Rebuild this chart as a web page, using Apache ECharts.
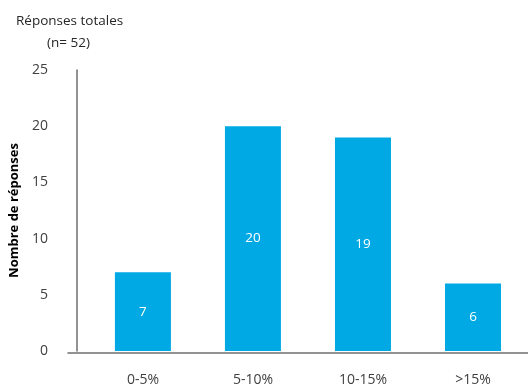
<!DOCTYPE html>
<html>
<head>
<meta charset="utf-8">
<script src="https://cdn.jsdelivr.net/npm/echarts@6/dist/echarts.min.js"></script>
<style>
  html, body { margin: 0; padding: 0; background: #ffffff; }
  #chart { width: 528px; height: 387px; }
</style>
</head>
<body>
<div id="chart"></div>
<script>
// Distribution of responses by range
const categories = ['0-5%', '5-10%', '10-15%', '>15%'];
const responses = [7, 20, 19, 6];
const yTicks = { min: 0, max: 25, interval: 5 };

const FONT = '"Open Sans", "Noto Sans", sans-serif';
const BAR_COLOR = '#00a9e4';
const AXIS_COLOR = '#6f6f6f';

const chart = echarts.init(document.getElementById('chart'), null, { renderer: 'canvas' });

chart.setOption({
  animation: false,
  backgroundColor: '#ffffff',
  title: [
    {
      text: 'Réponses totales',
      left: 11, top: 9,
      textStyle: { fontFamily: FONT, fontSize: 13.5, fontWeight: 'normal', color: '#262626' }
    },
    {
      text: '(n= 52)',
      left: 42, top: 31,
      textStyle: { fontFamily: FONT, fontSize: 13.5, fontWeight: 'normal', color: '#262626' }
    }
  ],
  grid: [
    { left: 87, right: -4, top: 70, bottom: 34 },
    // baseline running across the full width, crossing the value axis
    { left: 68, right: 0, bottom: 34, height: 10 }
  ],
  xAxis: [
    {
      gridIndex: 0,
      type: 'category',
      data: categories,
      axisLine: { show: false },
      axisTick: { show: false },
      axisLabel: { fontFamily: FONT, fontSize: 14, color: '#404040', margin: 22 }
    },
    {
      gridIndex: 1,
      type: 'value',
      min: 0, max: 1,
      axisLine: { show: true, lineStyle: { color: AXIS_COLOR, width: 1.5 } },
      axisTick: { show: false },
      axisLabel: { show: false },
      splitLine: { show: false }
    }
  ],
  yAxis: [
    {
      gridIndex: 0,
      type: 'value',
      min: yTicks.min, max: yTicks.max, interval: yTicks.interval,
      offset: 11,
      name: 'Nombre de réponses',
      nameLocation: 'middle',
      nameGap: 49,
      nameRotate: 90,
      nameTextStyle: { fontFamily: FONT, fontSize: 13, fontWeight: 'bold', color: '#000000' },
      axisLine: { show: true, lineStyle: { color: AXIS_COLOR, width: 1.5 } },
      axisTick: { show: false },
      splitLine: { show: false },
      axisLabel: { fontFamily: FONT, fontSize: 14, color: '#404040', margin: 29 }
    },
    {
      gridIndex: 1,
      type: 'value',
      show: false
    }
  ],
  series: [
    {
      type: 'bar',
      xAxisIndex: 0, yAxisIndex: 0,
      data: responses,
      barWidth: 56,
      itemStyle: { color: BAR_COLOR },
      label: {
        show: true,
        position: 'inside',
        fontFamily: FONT,
        fontSize: 13.5,
        color: '#ffffff'
      }
    }
  ]
});
</script>
</body>
</html>
